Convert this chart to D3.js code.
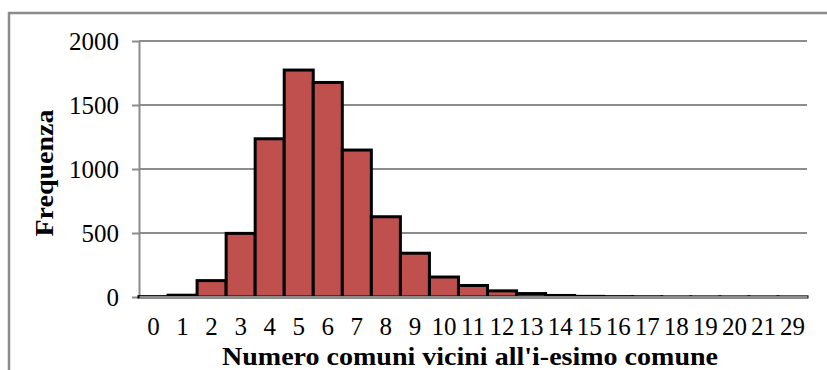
<!DOCTYPE html>
<html>
<head>
<meta charset="utf-8">
<script src="https://cdn.jsdelivr.net/npm/d3@7"></script>
<style>
  html, body { margin: 0; padding: 0; background: #fff; }
  svg { display: block; }
</style>
</head>
<body>
<svg id="chart" width="827" height="370"></svg>
<script>
const categories = ["0","1","2","3","4","5","6","7","8","9","10","11","12","13","14","15","16","17","18","19","20","21","29"];
const frequencies = [3, 14, 128, 497, 1236, 1773, 1676, 1148, 627, 342, 156, 90, 48, 27, 12, 5, 3, 2, 1, 1, 1, 1, 1];
const yTicks = [0, 500, 1000, 1500, 2000];
const xTitle = "Numero comuni vicini all'i-esimo comune";
const yTitle = "Frequenza";

const svg = d3.select("#chart");
const x0 = 139, x1 = 807, y0 = 297, y1 = 41;
const FONT = "'Liberation Serif', 'Times New Roman', serif";

// outer frame
svg.append("rect").attr("x", 9).attr("y", 13).attr("width", 830).attr("height", 370)
  .attr("fill", "none").attr("stroke", "#8c8c8c").attr("stroke-width", 2.5);

const x = d3.scaleBand().domain(categories).range([x0, x1]).paddingInner(0).paddingOuter(0);
const y = d3.scaleLinear().domain([0, 2000]).range([y0, y1]);

// gridlines
svg.append("g").selectAll("line").data(yTicks.filter(d => d > 0)).join("line")
  .attr("x1", x0).attr("x2", x1).attr("y1", d => y(d)).attr("y2", d => y(d))
  .attr("stroke", "#8c8c8c").attr("stroke-width", 2);

// y axis
const yAxis = d3.axisLeft(y).tickValues(yTicks).tickFormat(d3.format("d")).tickSize(7).tickPadding(13).tickSizeOuter(0);
const gy = svg.append("g").attr("transform", `translate(${x0},0)`).call(yAxis);
gy.select(".domain").attr("stroke", "#8c8c8c").attr("stroke-width", 2);
gy.selectAll(".tick line").attr("stroke", "#8c8c8c").attr("stroke-width", 2);
gy.selectAll(".tick text").attr("font-family", FONT).attr("font-size", 25).attr("fill", "#000");

// bars
svg.append("g").selectAll("rect").data(categories.map((c, i) => ({ c, v: frequencies[i] }))).join("rect")
  .attr("x", d => x(d.c)).attr("width", x.bandwidth())
  .attr("y", d => y(d.v)).attr("height", d => y0 - y(d.v))
  .attr("fill", "#c0504d").attr("stroke", "#000").attr("stroke-width", 3);

// x axis
const xAxis = d3.axisBottom(x).tickSize(0);
const gx = svg.append("g").attr("transform", `translate(0,${y0})`).call(xAxis);
gx.select(".domain").attr("stroke", "#8c8c8c").attr("stroke-width", 3);
gx.selectAll(".tick text").attr("font-family", FONT).attr("font-size", 25).attr("fill", "#000")
  .attr("y", 38).attr("dy", 0);

// titles
svg.append("text").attr("x", 470).attr("y", 365).attr("text-anchor", "middle")
  .attr("font-family", FONT).attr("font-weight", "bold").attr("font-size", 26)
  .attr("textLength", 496).attr("lengthAdjust", "spacingAndGlyphs")
  .text(xTitle);
svg.append("text").attr("transform", "translate(53,173) rotate(-90)").attr("text-anchor", "middle")
  .attr("font-family", FONT).attr("font-weight", "bold").attr("font-size", 26)
  .attr("textLength", 127).attr("lengthAdjust", "spacingAndGlyphs")
  .text(yTitle);
</script>
</body>
</html>
